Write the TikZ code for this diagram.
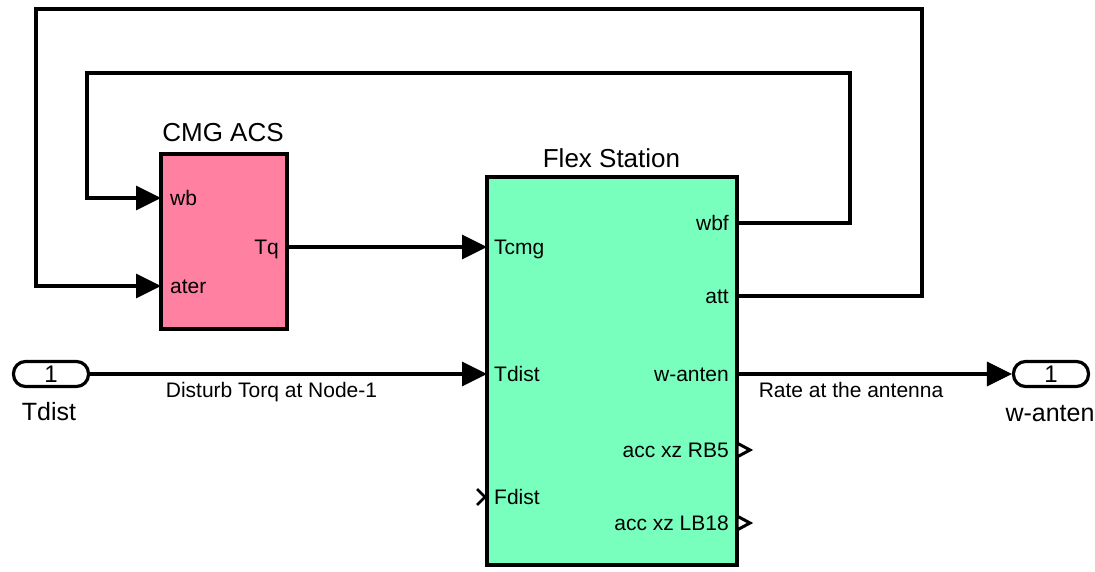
\documentclass[tikz,border=0pt]{standalone}
\usepackage{fontspec}
\setmainfont{Liberation Sans}
\usetikzlibrary{arrows.meta}
\definecolor{acspink}{RGB}{255,128,160}
\definecolor{flexgreen}{RGB}{120,255,190}
\begin{document}
\begin{tikzpicture}[x=1pt,y=-1pt,
  wire/.style={line width=3.2pt, line join=miter},
  sig/.style={wire, -{Triangle[length=25pt,width=24pt]}},
  block/.style={draw, line width=3.2pt, inner sep=0pt, outer sep=0pt},
  title/.style={font=\fontsize{26}{26}\selectfont, anchor=base, inner sep=0pt},
  plabel/.style={font=\fontsize{21}{21}\selectfont, inner sep=0pt, text height=15pt, text depth=0pt},
  siglabel/.style={font=\fontsize{21}{21}\selectfont, inner sep=0pt, text height=15pt, text depth=0pt},
  portoval/.style={draw, line width=3.2pt, rounded corners=12pt, minimum width=75pt, minimum height=25pt,
                   inner sep=0pt, font=\fontsize{24}{24}\selectfont, text height=17pt, text depth=0pt},
  portname/.style={font=\fontsize{25}{25}\selectfont, inner sep=0pt, text height=18pt, text depth=0pt},
  openport/.style={line width=3pt, fill=white, line join=miter}
]
\useasboundingbox (0,0) rectangle (1095,572);

% blocks
\node[block, fill=acspink, minimum width=126pt, minimum height=175pt] (cmg) at (224,241.5) {};
\node[block, fill=flexgreen, minimum width=250pt, minimum height=388pt] (flex) at (612,371) {};
\node[title] (cmgtitle) at (223,142) {CMG ACS};
\node[title] (flextitle) at (611.5,168) {Flex Station};

% root-level ports
\node[portoval] (in1) at (51,374) {1};
\node[portoval] (out1) at (1051,374) {1};
\node[portname] (in1name) at (49,411) {Tdist};
\node[portname] (out1name) at (1050,412) {w-anten};

% port positions on the blocks
\coordinate (cmgwb)   at (cmg.west |- 0,198);
\coordinate (cmgater) at (cmg.west |- 0,286);
\coordinate (cmgtq)   at (cmg.east |- 0,247);
\coordinate (fltcmg)  at (flex.west |- 0,247);
\coordinate (fltdist) at (flex.west |- 0,374);
\coordinate (flfdist) at (flex.west |- 0,497);
\coordinate (flwbf)   at (flex.east |- 0,223);
\coordinate (flatt)   at (flex.east |- 0,296);
\coordinate (flwant)  at (flex.east |- 0,374);
\coordinate (flrb)    at (flex.east |- 0,450);
\coordinate (fllb)    at (flex.east |- 0,523);

% port labels
\node[plabel, anchor=west] (lwb)   at ([xshift=9pt]cmgwb) {wb};
\node[plabel, anchor=west] (later) at ([xshift=9pt]cmgater) {ater};
\node[plabel, anchor=east] (ltq)   at ([xshift=-8pt]cmgtq) {Tq};
\node[plabel, anchor=west] (ltcmg) at ([xshift=7pt]fltcmg) {Tcmg};
\node[plabel, anchor=west] (ltdist) at ([xshift=7pt]fltdist) {Tdist};
\node[plabel, anchor=west] (lfdist) at ([xshift=7pt]flfdist) {Fdist};
\node[plabel, anchor=east] (lwbf)  at ([xshift=-8pt]flwbf) {wbf};
\node[plabel, anchor=east] (latt)  at ([xshift=-8pt]flatt) {att};
\node[plabel, anchor=east] (lwant) at ([xshift=-8pt]flwant) {w-anten};
\node[plabel, anchor=east] (lrb)   at ([xshift=-8pt]flrb) {acc xz RB5};
\node[plabel, anchor=east] (llb)   at ([xshift=-8pt]fllb) {acc xz LB18};

% unconnected port markers
\draw[line width=2.8pt, line join=miter] ([xshift=-10pt,yshift=8pt]flfdist) -- ([xshift=-2pt]flfdist) -- ([xshift=-10pt,yshift=-8pt]flfdist);
\draw[openport] ([yshift=7pt]flrb) -- ([xshift=13pt]flrb) -- ([yshift=-7pt]flrb) -- cycle;
\draw[openport] ([yshift=7pt]fllb) -- ([xshift=13pt]fllb) -- ([yshift=-7pt]fllb) -- cycle;

% feedback corners
\coordinate (innerNE) at (850,73);
\coordinate (innerNW) at (87,73);
\coordinate (outerNE) at (922,9);
\coordinate (outerNW) at (36,9);

% signal lines
\draw[sig] (cmgtq) -- (fltcmg);
\draw[sig] (in1.east) -- (fltdist);
\draw[sig] (flwant) -- (out1.west);
\draw[sig] (flwbf) -| (innerNE) -- (innerNW) |- (cmgwb);
\draw[sig] (flatt) -| (outerNE) -- (outerNW) |- (cmgater);

% signal names
\node[siglabel] (sdist) at (271.5,390) {Disturb Torq at Node-1};
\node[siglabel] (srate) at (851,390) {Rate at the antenna};
\end{tikzpicture}
\end{document}
